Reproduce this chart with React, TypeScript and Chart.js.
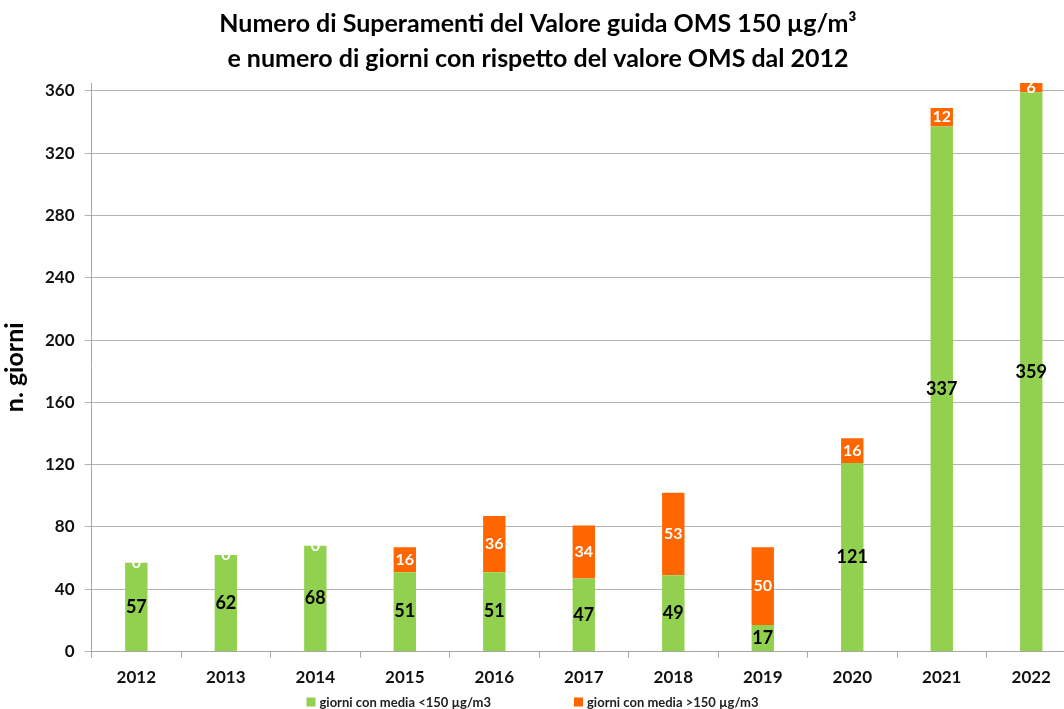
import React, { useEffect, useRef } from "react";
import { Chart, registerables } from "chart.js";

Chart.register(...registerables);

const years = ["2012", "2013", "2014", "2015", "2016", "2017", "2018", "2019", "2020", "2021", "2022"];
const daysBelow = [57, 62, 68, 51, 51, 47, 49, 17, 121, 337, 359];
const daysAbove = [0, 0, 0, 16, 36, 34, 53, 50, 16, 12, 6];
const seriesLabels = ["giorni con media <150 µg/m3", "giorni con media >150 µg/m3"];
const yTickValues = [0, 40, 80, 120, 160, 200, 240, 280, 320, 360];
const titleLines = [
  "Numero di Superamenti del Valore guida OMS 150 µg/m³",
  "e numero di giorni con rispetto del valore OMS dal 2012",
];

const GREEN = "#92D050";
const ORANGE = "#FF6600";
const FONT = "Lato, 'Open Sans', sans-serif";

const labelsPlugin = {
  id: "barValueLabels",
  afterDatasetsDraw(chart: any) {
    const ctx = chart.ctx;
    ctx.save();
    ctx.textAlign = "center";
    ctx.textBaseline = "middle";
    chart.data.datasets.forEach((ds: any, di: number) => {
      const meta = chart.getDatasetMeta(di);
      meta.data.forEach((el: any, i: number) => {
        const { x, y, base } = el.getProps(["x", "y", "base"], true);
        const cy = (y + base) / 2;
        if (di === 0) {
          ctx.fillStyle = "#000";
          ctx.font = `bold 18px ${FONT}`;
        } else {
          ctx.fillStyle = "#fff";
          ctx.font = `bold 16px ${FONT}`;
        }
        ctx.fillText(String(ds.data[i]), x, cy);
      });
    });
    ctx.restore();
  },
};

const legendPlugin = {
  id: "bottomLegend",
  afterDraw(chart: any) {
    const ctx = chart.ctx;
    ctx.save();
    ctx.font = `bold 13px ${FONT}`;
    ctx.textBaseline = "middle";
    ctx.textAlign = "left";
    const box = 9;
    const gap = 4;
    const itemGap = 83;
    const items = chart.data.datasets.map((ds: any) => ({
      text: ds.label,
      color: ds.backgroundColor,
      w: box + gap + ctx.measureText(ds.label).width,
    }));
    const total = items.reduce((s: number, it: any) => s + it.w, 0) + itemGap * (items.length - 1);
    let x = chart.width / 2 - 7.5 - total / 2;
    const cy = chart.height - 7;
    items.forEach((it: any) => {
      ctx.fillStyle = it.color;
      ctx.fillRect(x, cy - box / 2, box, box);
      ctx.fillStyle = "#222";
      ctx.fillText(it.text, x + box + gap, cy + 1);
      x += it.w + itemGap;
    });
    ctx.restore();
  },
};

export default function App() {
  const ref = useRef<HTMLCanvasElement | null>(null);
  useEffect(() => {
    document.body.style.margin = "0";
    document.body.style.overflow = "hidden";
    const chart = new Chart(ref.current as HTMLCanvasElement, {
      type: "bar",
      data: {
        labels: years,
        datasets: [
          { label: seriesLabels[0], data: daysBelow, backgroundColor: GREEN, borderWidth: 0 },
          { label: seriesLabels[1], data: daysAbove, backgroundColor: ORANGE, borderWidth: 0 },
        ],
      },
      options: {
        responsive: false,
        animation: false,
        layout: { padding: { left: 0, right: 4, top: 4, bottom: 11 } },
        datasets: { bar: { barPercentage: 0.25, categoryPercentage: 1 } },
        plugins: {
          legend: { display: false },
          tooltip: { enabled: false },
          title: {
            display: true,
            text: titleLines,
            color: "#000",
            font: { family: FONT, size: 25, weight: "bold", lineHeight: 1.4 },
            padding: { top: 2, bottom: 7 },
          },
        },
        scales: {
          x: {
            stacked: true,
            grid: {
              display: true,
              drawOnChartArea: false,
              drawTicks: true,
              tickLength: 6,
              color: "#a6a6a6",
              offset: true,
            },
            border: { color: "#a6a6a6" },
            ticks: {
              color: "#111",
              padding: 10,
              font: { family: FONT, size: 17, weight: "bold" },
            },
          },
          y: {
            stacked: true,
            min: 0,
            max: 365,
            afterBuildTicks: (axis: any) => {
              axis.ticks = yTickValues.map((v) => ({ value: v }));
            },
            grid: { color: "#b4b4b4", tickLength: 7, lineWidth: 1 },
            border: { color: "#a6a6a6" },
            ticks: {
              color: "#111",
              padding: 10,
              font: { family: FONT, size: 17, weight: "bold" },
            },
            title: {
              display: true,
              text: "n. giorni",
              color: "#000",
              font: { family: FONT, size: 25, weight: "bold" },
              padding: { top: 0, bottom: 5 },
            },
          },
        },
      },
      plugins: [labelsPlugin, legendPlugin],
    });
    return () => chart.destroy();
  }, []);
  return (
    <div style={{ width: 1064, height: 709, overflow: "hidden", background: "#fff" }}>
      <canvas ref={ref} width={1080} height={709} style={{ display: "block" }} />
    </div>
  );
}
